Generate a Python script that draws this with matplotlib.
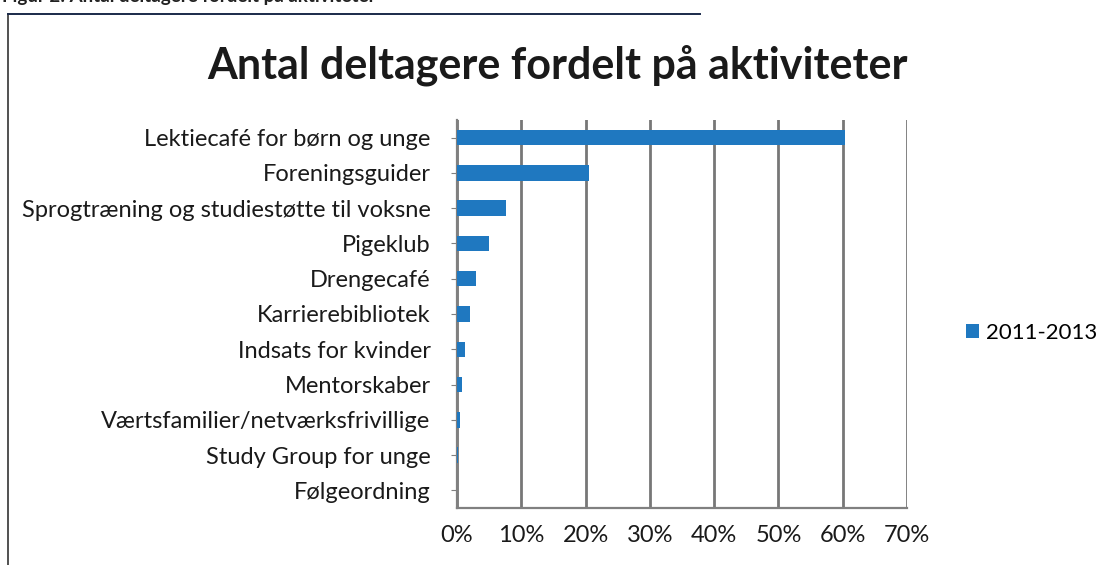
import matplotlib.pyplot as plt
from matplotlib.ticker import PercentFormatter, MultipleLocator

plt.rcParams['font.family'] = ['Lato', 'DejaVu Sans']

# Data (share of participants, %)
activities = ["Lektiecafé for børn og unge", "Foreningsguider",
              "Sprogtræning og studiestøtte til voksne", "Pigeklub",
              "Drengecafé", "Karrierebibliotek", "Indsats for kvinder",
              "Mentorskaber", "Værtsfamilier/netværksfrivillige",
              "Study Group for unge", "Følgeordning"]
share_2011_2013 = [60.3, 20.5, 7.6, 5.0, 3.0, 2.0, 1.3, 0.8, 0.4, 0.1, 0.05]
series_label = "2011-2013"

bar_color = "#1f78c0"

fig = plt.figure(figsize=(11.15, 5.65), dpi=100)
ax = fig.add_axes([457 / 1115, 1 - 508 / 565, 450 / 1115, 388 / 565])

ypos = range(len(activities))
ax.barh(ypos, share_2011_2013, height=0.44, color=bar_color, label=series_label, zorder=3)
ax.set_yticks(list(ypos))
ax.set_yticklabels(activities, fontsize=17, color='#1a1a1a')
ax.set_ylim(len(activities) - 0.5, -0.5)

ax.set_xlim(0, 70)
ax.xaxis.set_major_locator(MultipleLocator(10))
ax.xaxis.set_major_formatter(PercentFormatter(decimals=0))
ax.tick_params(axis='x', labelsize=17, labelcolor='#1a1a1a', length=0, pad=12)
ax.tick_params(axis='y', length=4, color='#808080', pad=15)
ax.grid(axis='x', color='#777777', linewidth=2.0, zorder=0)

for side in ['top', 'right']:
    ax.spines[side].set_visible(False)
ax.spines['left'].set_color('#808080')
ax.spines['bottom'].set_color('#808080')
ax.spines['left'].set_linewidth(1.6)
ax.spines['bottom'].set_linewidth(1.6)

fig.text(0.5, 1 - 65 / 565, "Antal deltagere fordelt på aktiviteter",
         ha='center', va='center', fontsize=31, fontweight='bold', color='#1a1a1a')

# cut-off figure caption at the very top of the scan
fig.text(0.002, 1.006, "Figur 2: Antal deltagere fordelt på aktiviteter",
         ha='left', va='center', fontsize=13.5, fontweight='bold', color='#222222')

# frame lines of the scanned chart box
fig.add_artist(plt.Line2D([8 / 1115, 8 / 1115], [0, 1 - 14 / 565], color='#333333', linewidth=1.2))
fig.add_artist(plt.Line2D([8 / 1115, 700 / 1115], [1 - 14 / 565, 1 - 14 / 565], color='#1a2a4a', linewidth=1.4))

leg = ax.legend(loc='center left', bbox_to_anchor=(966 / 1115, 1 - 333 / 565),
                bbox_transform=fig.transFigure, frameon=False, fontsize=16,
                borderaxespad=0, borderpad=0,
                handlelength=0.6, handleheight=0.6, handletextpad=0.3)

fig.savefig("out.png", dpi=100)
